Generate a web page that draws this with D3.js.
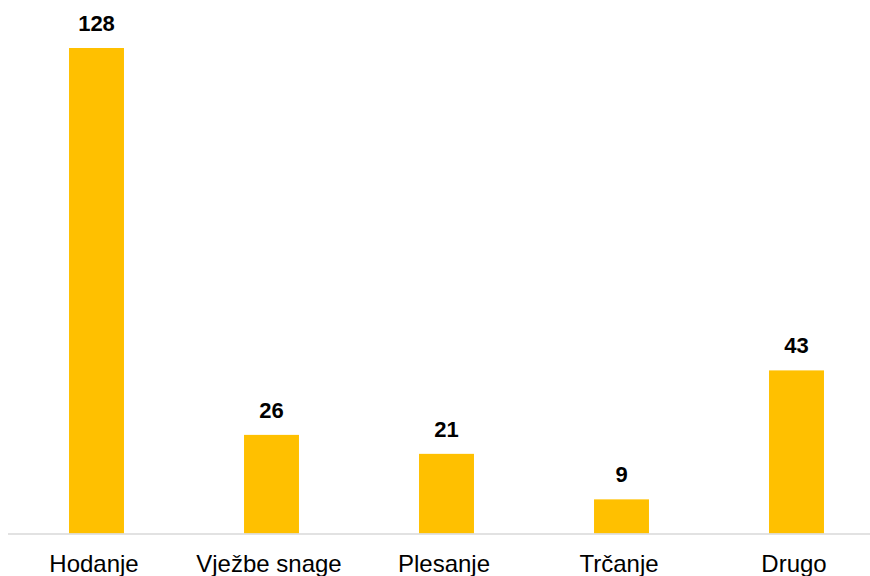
<!DOCTYPE html>
<html><head><meta charset="utf-8">
<script src="https://cdn.jsdelivr.net/npm/d3@7"></script>
<style>body{margin:0;background:#fff}svg{display:block}</style>
</head><body>
<svg id="c" width="870" height="576"></svg>
<script>
const categories = ["Hodanje", "Vježbe snage", "Plesanje", "Trčanje", "Drugo"];
const values = [128, 26, 21, 9, 43];

const svg = d3.select("#c");
const baseY = 533.5;
const x = d3.scaleBand().domain(categories).range([9, 884]).paddingInner(0.686).paddingOuter(0.343);
const y = d3.scaleLinear().domain([0, 128]).range([baseY, 48]);

svg.selectAll("rect.bar").data(values).join("rect")
  .attr("class", "bar")
  .attr("x", (d, i) => x(categories[i]))
  .attr("width", x.bandwidth())
  .attr("y", d => y(d))
  .attr("height", d => baseY - y(d))
  .attr("fill", "#ffc000");

svg.append("line").attr("x1", 8).attr("x2", 884).attr("y1", baseY + 0.5).attr("y2", baseY + 0.5)
  .attr("stroke", "#d9d9d9").attr("stroke-width", 1.5);

svg.selectAll("text.val").data(values).join("text")
  .attr("class", "val")
  .attr("x", (d, i) => x(categories[i]) + x.bandwidth() / 2)
  .attr("y", d => y(d) - 17)
  .attr("text-anchor", "middle")
  .attr("font-family", "Liberation Sans, Arial, sans-serif")
  .attr("font-weight", "bold")
  .attr("font-size", 22)
  .attr("fill", "#000")
  .text(d => d);

svg.selectAll("text.cat").data(categories).join("text")
  .attr("class", "cat")
  .attr("x", d => x(d) + x.bandwidth() / 2 - 2.5)
  .attr("y", 572)
  .attr("text-anchor", "middle")
  .attr("font-family", "Liberation Sans, Arial, sans-serif")
  .attr("font-size", 24)
  .attr("fill", "#000")
  .text(d => d);
</script>
</body></html>
